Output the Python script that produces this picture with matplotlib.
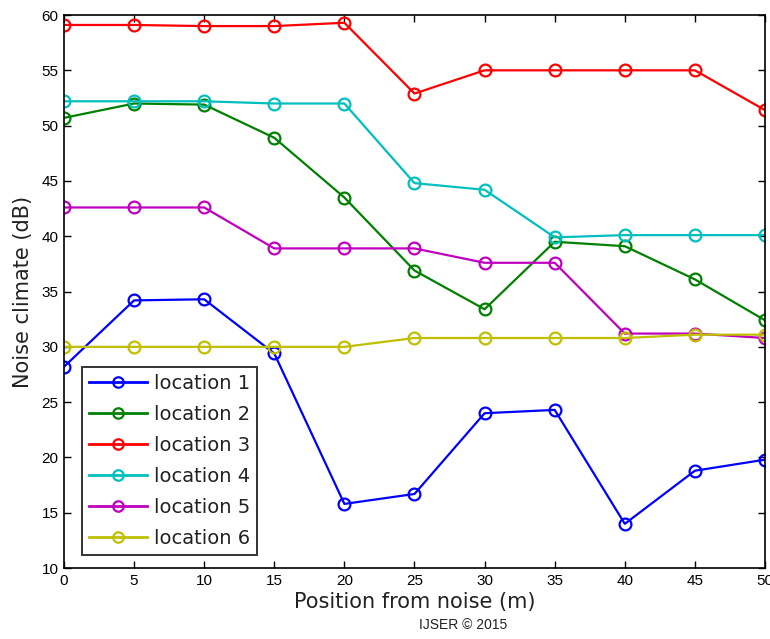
import matplotlib
matplotlib.use("Agg")
import matplotlib.pyplot as plt

# position from noise source (m)
positions = [0, 5, 10, 15, 20, 25, 30, 35, 40, 45, 50]

loc1 = [28.2, 34.2, 34.3, 29.4, 15.8, 16.7, 24.0, 24.3, 14.0, 18.8, 19.8]
loc2 = [50.7, 52.0, 51.9, 48.9, 43.5, 36.9, 33.4, 39.5, 39.1, 36.1, 32.4]
loc3 = [59.1, 59.1, 59.0, 59.0, 59.3, 52.9, 55.0, 55.0, 55.0, 55.0, 51.4]
loc4 = [52.2, 52.2, 52.2, 52.0, 52.0, 44.8, 44.2, 39.9, 40.1, 40.1, 40.1]
loc5 = [42.6, 42.6, 42.6, 38.9, 38.9, 38.9, 37.6, 37.6, 31.2, 31.2, 30.8]
loc6 = [30.0, 30.0, 30.0, 30.0, 30.0, 30.8, 30.8, 30.8, 30.8, 31.1, 31.1]

series = [loc1, loc2, loc3, loc4, loc5, loc6]
labels = ["location 1", "location 2", "location 3", "location 4", "location 5", "location 6"]
colors = ["#0000ff", "#008000", "#ff0000", "#00bfbf", "#bf00bf", "#bfbf00"]

fig = plt.figure(figsize=(7.7, 6.39), dpi=100)
ax = fig.add_axes([0.0831, 0.111, 0.9104, 0.8655])

for vals, lab, col in zip(series, labels, colors):
    ax.plot(positions, vals, color=col, marker="o", markersize=8.5,
            markerfacecolor="none", markeredgewidth=1.6, linewidth=1.6, label=lab)

ax.set_xlim(0, 50)
ax.set_ylim(10, 60)
ax.set_xticks(range(0, 51, 5))
ax.set_yticks(range(10, 61, 5))
ax.tick_params(direction="in", top=True, right=True, length=5, width=1,
               labelsize=11, pad=4)
for lbl in ax.get_xticklabels() + ax.get_yticklabels():
    lbl.set_family("Liberation Sans")
for sp in ax.spines.values():
    sp.set_linewidth(1.2)

ax.set_xlabel("Position from noise (m)", fontsize=15, family="DejaVu Sans",
              color="#222222", labelpad=3)
ax.set_ylabel("Noise climate (dB)", fontsize=15, family="DejaVu Sans",
              color="#222222", labelpad=6)

leg = ax.legend(loc="lower left", bbox_to_anchor=(0.026, 0.024), borderaxespad=0,
                frameon=True, fancybox=False, edgecolor="black", handlelength=3.0,
                borderpad=0.35, labelspacing=0.62, handletextpad=0.35,
                prop={"family": "DejaVu Sans", "size": 14})
leg.get_frame().set_linewidth(1.4)
for t in leg.get_texts():
    t.set_color("#222222")
for h in leg.get_lines():
    h.set_markersize(7.5)
    h.set_linewidth(2)

fig.text(0.601, 0.011, "IJSER © 2015", ha="center", va="bottom",
         fontsize=10, family="Liberation Sans", color="#222222")

fig.savefig("out.png", dpi=100)
